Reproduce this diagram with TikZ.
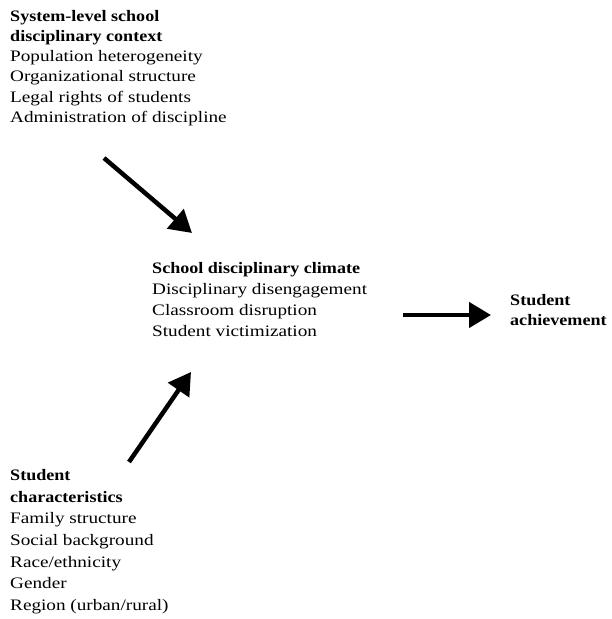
\documentclass[tikz,border=0pt]{standalone}
\usepackage{fontspec}
\setmainfont[FakeStretch=1.2,BoldFeatures={FakeStretch=1.13}]{Liberation Serif}
\usetikzlibrary{arrows.meta}
\begin{document}
\begin{tikzpicture}[x=1pt,y=-1pt,
  block/.style={anchor=north west,inner sep=0pt,align=left,font=\fontsize{16}{20.2}\selectfont},
  blockm/.style={block,font=\fontsize{16}{21}\selectfont},
  blockr/.style={block,font=\fontsize{16}{20}\selectfont},
  blockb/.style={block,font=\fontsize{16}{21.7}\selectfont},
  arr/.style={line width=4.5pt,-{Triangle[length=22pt,width=25pt]}}]
\useasboundingbox (0,0) rectangle (612,619);
\node[block] (sys) at (10,10) {\textbf{System-level school}\\\textbf{disciplinary context}\\Population heterogeneity\\Organizational structure\\Legal rights of students\\Administration of discipline};
\node[blockm] (clim) at (152,262) {\textbf{School disciplinary climate}\\Disciplinary disengagement\\Classroom disruption\\Student victimization};
\node[blockr] (ach) at (510,294) {\textbf{Student}\\\textbf{achievement}};
\node[blockb] (stu) at (10,469) {\textbf{Student}\\\textbf{characteristics}\\Family structure\\Social background\\Race/ethnicity\\Gender\\Region (urban/rural)};
\coordinate (a1s) at (104,158);
\coordinate (a1e) at (192,233);
\coordinate (a2s) at (129,462);
\coordinate (a2e) at (191,372);
\coordinate (a3s) at (403,315);
\coordinate (a3e) at (491,315);
\draw[arr] (a1s) -- (a1e);
\draw[arr] (a2s) -- (a2e);
\draw[arr] (a3s) -- (a3e);
\end{tikzpicture}
\end{document}
